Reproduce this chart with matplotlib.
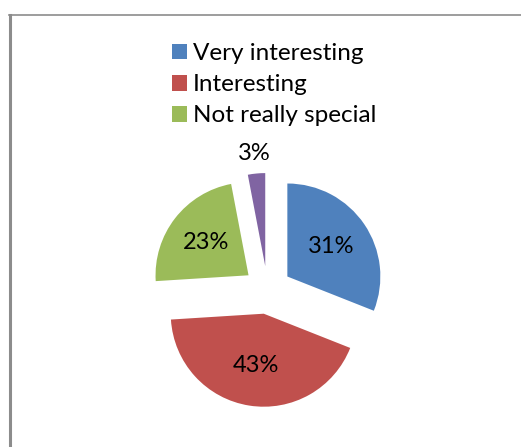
import numpy as np
import matplotlib
matplotlib.use("Agg")
import matplotlib.pyplot as plt
from matplotlib.patches import Patch
from matplotlib.lines import Line2D

# data
categories = ["Very interesting", "Interesting", "Not really special", "Other"]
values = [31, 43, 23, 3]
colors = ["#4F81BD", "#C0504D", "#9BBB59", "#8064A2"]
legend_count = 3  # only the first three entries show in the legend

plt.rcParams['font.family'] = ['Lato', 'DejaVu Sans']

W, H = 521, 447
fig = plt.figure(figsize=(W / 100, H / 100), dpi=100)
ax = fig.add_axes([0, 0, 1, 1])

# pie in pixel coords (explode is in data units in matplotlib)
cx, cy = 267.5, H - 290
radius = 93
gap = 24
explode = [gap] * len(values)
wedges, _ = ax.pie(values, colors=colors, explode=explode, startangle=90,
                   counterclock=False, center=(cx, cy), radius=radius,
                   wedgeprops=dict(linewidth=0))
ax.set_aspect("auto")
ax.set_xlim(0, W)
ax.set_ylim(0, H)
ax.axis("off")

# percentage labels, along each slice bisector
label_dist = [0.57, 0.56, 0.58, 1.22]
total = sum(values)
start = 0
for v, d in zip(values, label_dist):
    mid = np.deg2rad(90 - (start + v / 2) / total * 360)
    r = gap + d * radius
    ax.text(cx + r * np.cos(mid), cy + r * np.sin(mid), f"{v}%",
            ha="center", va="center", fontsize=17, color="black")
    start += v

# legend
handles = [Patch(facecolor=c, edgecolor="none") for c in colors[:legend_count]]
fig.legend(handles, categories[:legend_count], loc="upper left",
           bbox_to_anchor=(172 / W, 1 - 43 / H), frameon=False, fontsize=17.5,
           handlelength=0.62, handleheight=0.62, handletextpad=0.25,
           labelspacing=0.42, borderaxespad=0, borderpad=0)

# chart border (left and top visible)
fig.add_artist(Line2D([10 / W, 10 / W], [0, 1 - 15 / H], color="#8c8c8c",
                      linewidth=2.2, transform=fig.transFigure))
fig.add_artist(Line2D([9 / W, 1], [1 - 15 / H, 1 - 15 / H], color="#8c8c8c",
                      linewidth=1.2, transform=fig.transFigure))

fig.savefig("out.png", dpi=100)
